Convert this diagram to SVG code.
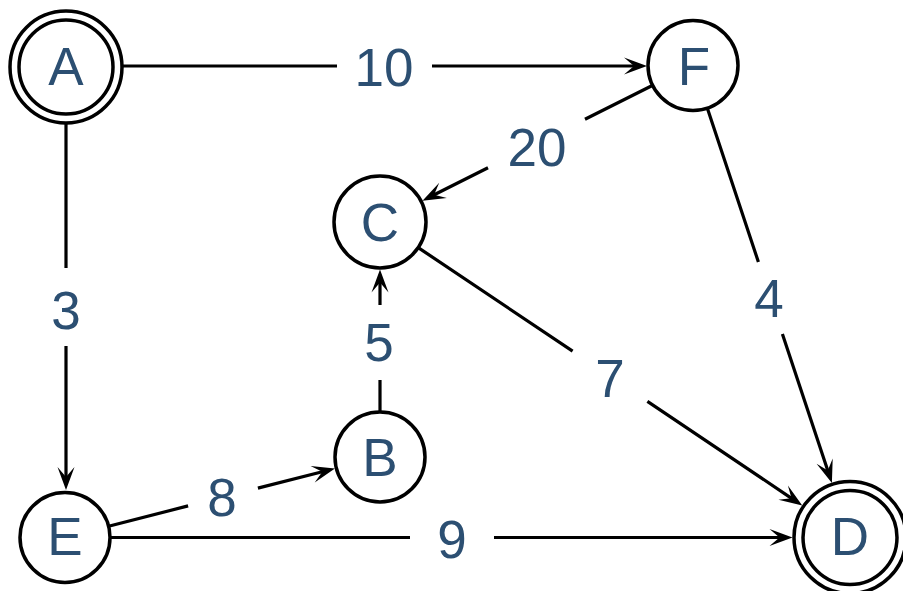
<svg xmlns="http://www.w3.org/2000/svg" width="903" height="591" viewBox="0 0 903 591">
<style>
.node circle{fill:#ffffff;stroke:#000000;stroke-width:3.5}
.lbl{font-family:"Liberation Sans",Arial,sans-serif;font-size:53px;fill:#2c4f72;text-anchor:middle}
.edge{fill:none;stroke:#000000;stroke-width:3.2}
</style>
<defs>
<marker id="arr" markerUnits="userSpaceOnUse" markerWidth="26" markerHeight="20" viewBox="-12 -10 26 20" refX="0" refY="0" orient="auto">
<path d="M12,0 L-11,-8.5 L-1,0 L-11,8.5 Z" fill="#000000"/>
</marker>
</defs>
<rect width="903" height="591" fill="#ffffff"/>
<g id="connectors">
<path class="edge" d="M122,66 L337,66 M432,66 L635,66" marker-end="url(#arr)"/>
<path class="edge" d="M66,123 L66,268 M66,346 L66,478" marker-end="url(#arr)"/>
<path class="edge" d="M652.8,85.2 L585,119.2 M488,167.8 L433.2,195.3" marker-end="url(#arr)"/>
<path class="edge" d="M707.2,107.7 L758.4,262 M782.4,334 L828.1,471.5" marker-end="url(#arr)"/>
<path class="edge" d="M418.2,247.6 L572.6,351.2 M647.4,401.4 L792.3,498.8" marker-end="url(#arr)"/>
<path class="edge" d="M380,412 L380,380 M380,305 L380,281.5" marker-end="url(#arr)"/>
<path class="edge" d="M108.6,526.3 L188.1,505.9 M257.9,488.1 L323.3,471.5" marker-end="url(#arr)"/>
<path class="edge" d="M110,537.5 L410,537.5 M494,537.5 L780.5,537.5" marker-end="url(#arr)"/>
<text class="lbl" x="384" y="86">10</text>
<text class="lbl" x="537" y="166">20</text>
<text class="lbl" x="66" y="329">3</text>
<text class="lbl" x="769" y="317">4</text>
<text class="lbl" x="379" y="361">5</text>
<text class="lbl" x="610" y="397">7</text>
<text class="lbl" x="222" y="516">8</text>
<text class="lbl" x="452" y="558">9</text>
</g>
<g id="node-A" class="node">
<circle cx="66" cy="67" r="56"/>
<circle cx="66" cy="67" r="47"/>
<text class="lbl" x="66" y="85">A</text>
</g>
<g id="node-F" class="node">
<circle cx="693" cy="65.5" r="45"/>
<text class="lbl" x="694" y="85">F</text>
</g>
<g id="node-C" class="node">
<circle cx="380" cy="222" r="46"/>
<text class="lbl" x="380" y="241">C</text>
</g>
<g id="node-B" class="node">
<circle cx="380" cy="457" r="45"/>
<text class="lbl" x="380" y="476">B</text>
</g>
<g id="node-E" class="node">
<circle cx="65" cy="537.5" r="45"/>
<text class="lbl" x="65" y="555">E</text>
</g>
<g id="node-D" class="node">
<circle cx="850" cy="537.5" r="56"/>
<circle cx="850" cy="537.5" r="47"/>
<text class="lbl" x="850" y="555">D</text>
</g>
</svg>
